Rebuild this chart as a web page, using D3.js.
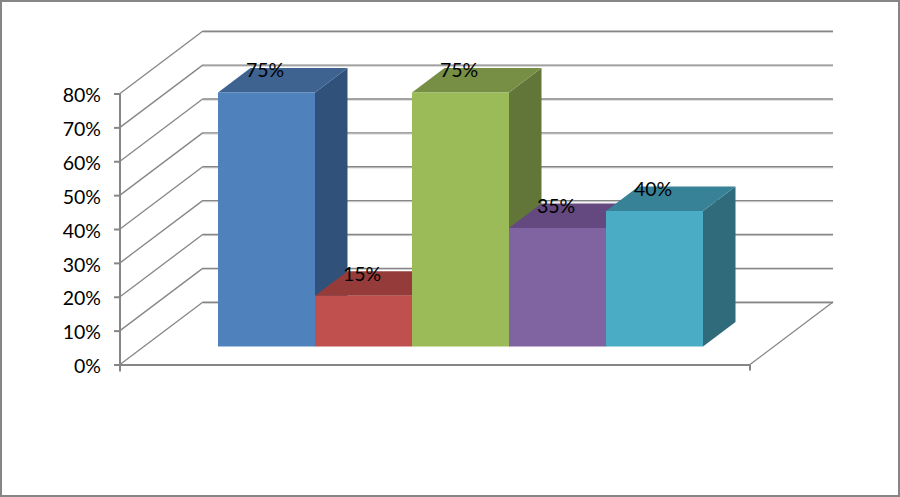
<!DOCTYPE html>
<html><head><meta charset="utf-8">
<script src="https://cdn.jsdelivr.net/npm/d3@7/dist/d3.min.js"></script>
<style>html,body{margin:0;padding:0;background:#fff}svg{display:block}text{font-family:Lato,"Open Sans",sans-serif}</style>
</head><body><svg id="c" width="900" height="497"></svg>
<script>
const categories = ["A","B","C","D","E"];
const values = [75,15,75,35,40];
const tickValues = [0,10,20,30,40,50,60,70,80];
const frontColors = ["#4F81BD","#C0504D","#9BBB59","#8064A2","#4BACC6"];
const topColors   = ["#3E6390","#953C3A","#778F45","#63497F","#388297"];
const sideColors  = ["#30527A","#7A302E","#63763A","#503C68","#2F6B7B"];

const W=900,H=497;
const svg=d3.select("#c");
const y=d3.scaleLinear().domain([0,80]).range([364.5,93.5]);
const wallDx=83, wallDy=-62.5;
const floorL=120, floorR=750;
const barsBase=346.5, barDx=32.5, barDy=-24.5;
const x=d3.scaleBand().domain(categories).range([218,703]).padding(0);
const grid="#868686";

svg.append("rect").attr("x",1).attr("y",1).attr("width",W-2).attr("height",H-2)
  .attr("fill","#fff").attr("stroke",grid).attr("stroke-width",2);

const g=svg.append("g");
tickValues.forEach(t=>{
  const yy=y(t);
  g.append("line").attr("x1",floorL+wallDx).attr("x2",floorR+wallDx)
    .attr("y1",yy+wallDy+1.4).attr("y2",yy+wallDy+1.4).attr("stroke","#d0d0d0").attr("stroke-width",1);
  g.append("line").attr("x1",floorL+wallDx).attr("x2",floorR+wallDx)
    .attr("y1",yy+wallDy+.2).attr("y2",yy+wallDy+.2).attr("stroke",grid).attr("stroke-width",1.4);
  g.append("line").attr("x1",floorL).attr("x2",floorL+wallDx)
    .attr("y1",yy).attr("y2",yy+wallDy).attr("stroke",grid).attr("stroke-width",1.3);
});
g.append("line").attr("x1",floorR).attr("x2",floorR+wallDx)
  .attr("y1",y(0)).attr("y2",y(0)+wallDy).attr("stroke",grid).attr("stroke-width",1.3);

const axis=d3.axisLeft(y).tickValues(tickValues).tickSize(6).tickPadding(13).tickFormat(d=>d+"%");
const ay=svg.append("g").attr("transform",`translate(${floorL},0)`).call(axis);
ay.selectAll("path,line").attr("stroke",grid).attr("stroke-width",2);
ay.select("path").attr("d",`M0,${y(80)}V${y(0)+7}`);
ay.selectAll("text").attr("fill","#000").attr("font-size",19.5).attr("dy","0.42em").style("font-family","Lato,sans-serif");

svg.append("line").attr("x1",floorL).attr("x2",floorR).attr("y1",y(0)+.5).attr("y2",y(0)+.5).attr("stroke",grid).attr("stroke-width",2);
svg.append("line").attr("x1",floorR).attr("x2",floorR).attr("y1",y(0)).attr("y2",y(0)+6).attr("stroke",grid).attr("stroke-width",2);

const pxPer=(y(0)-y(1));
const bars=svg.selectAll("g.bar").data(categories.map((c,i)=>({c,i,v:values[i]}))).join("g").attr("class","bar");
bars.each(function(d){
  const b=d3.select(this), x0=x(d.c), x1=x0+x.bandwidth(), top=barsBase-d.v*pxPer;
  b.append("polygon").attr("fill",sideColors[d.i])
    .attr("points",[[x1,barsBase],[x1+barDx,barsBase+barDy],[x1+barDx,top+barDy],[x1,top]].join(" "));
  b.append("polygon").attr("fill",topColors[d.i])
    .attr("points",[[x0,top],[x0+barDx,top+barDy],[x1+barDx,top+barDy],[x1,top]].join(" "));
  b.append("rect").attr("x",x0).attr("y",top).attr("width",x.bandwidth()).attr("height",barsBase-top).attr("fill",frontColors[d.i]);
});
svg.selectAll("text.lab").data(categories.map((c,i)=>({c,i,v:values[i]}))).join("text").attr("class","lab")
  .attr("x",d=>x(d.c)+x.bandwidth()/2-1.5).attr("y",d=>barsBase-d.v*pxPer-15)
  .attr("text-anchor","middle").attr("font-size",19.5).attr("fill","#000").text(d=>d.v+"%");
</script></body></html>
